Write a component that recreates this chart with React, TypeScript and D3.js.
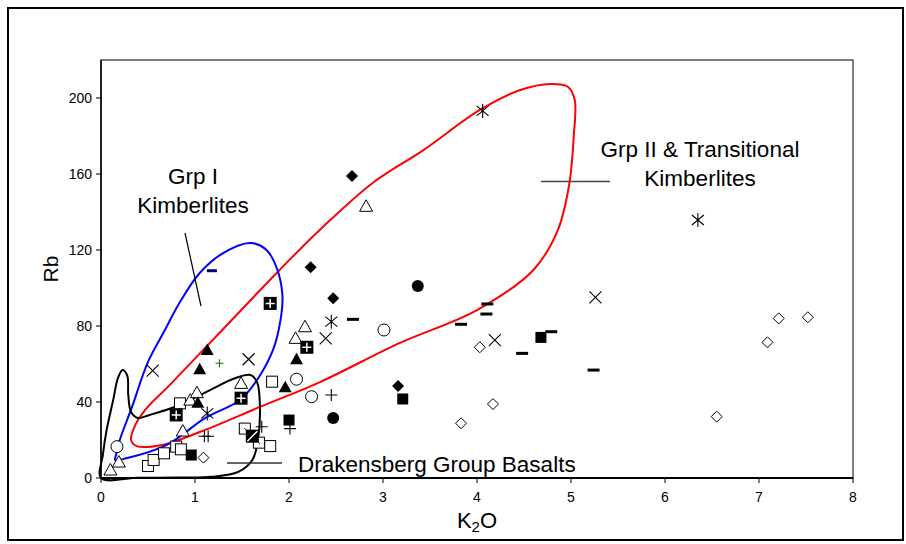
import React from "react"
import * as d3 from "d3"

// K2O, Rb pairs
const openTriangles = [[0.10, 4.2], [0.19, 8.4], [0.87, 24.7], [0.95, 41], [1.02, 44.9], [1.49, 49.8], [2.07, 73.5], [2.17, 79.6], [2.82, 143]]
const filledTriangles = [[1.13, 67.4], [1.05, 57.2], [1.03, 39.6], [1.96, 47.7], [2.08, 62.5]]
const plusSquares = [[0.80, 33.2], [1.49, 42], [1.80, 91.9], [2.19, 68.8]]
const xSquares = [[1.61, 22]]
const filledSquares = [[0.96, 12.1], [2.0, 30.5], [3.21, 41.6], [4.68, 74]]
const openSquares = [[0.50, 6.3], [0.56, 9.5], [0.67, 13], [0.80, 16.5], [0.85, 15.1], [0.84, 39.3], [1.53, 26], [1.68, 18.6], [1.80, 16.8], [1.82, 50.7]]
const openCircles = [[0.17, 16.5], [2.08, 52], [2.24, 42.8], [3.01, 77.9]]
const filledCircles = [[3.37, 101], [2.47, 31.6]]
const filledDiamonds = [[2.67, 159], [2.23, 110.9], [2.47, 94.6], [3.16, 48.4]]
const openDiamonds = [[1.09, 10.7], [4.03, 68.8], [4.17, 38.9], [3.83, 28.8], [7.21, 84], [7.52, 84.6], [7.09, 71.4], [6.55, 32.3]]
const asterisks = [[4.06, 193.2], [6.35, 135.8], [2.45, 82.3], [1.13, 34]]
const crosses = [[0.55, 56.5], [1.57, 62.5], [2.39, 73.5], [4.19, 72.6], [5.26, 95.1]]
const pluses = [[1.71, 27], [2.01, 26], [1.10, 22], [1.14, 22], [2.45, 43.7]]
const greenPluses = [[1.26, 60.4]]
const dashes = [[2.68, 83.5], [4.11, 91.6], [4.10, 86.3], [3.83, 80.9], [4.48, 65.6], [4.79, 77], [5.24, 56.8]]
const navyDashes = [[1.18, 109.1]]

// field outlines
const drakensberg = [[0, 0], [0.02, 12.1], [0.06, 25.3], [0.13, 41.1], [0.18, 52.6], [0.23, 56.8], [0.28, 53.7], [0.29, 43.7], [0.32, 34.7], [0.39, 31.6], [0.52, 33.2], [0.84, 38.4], [1.16, 46.3], [1.43, 52.6], [1.59, 54.2], [1.66, 50.5], [1.69, 38.4], [1.67, 20], [1.61, 9.5], [1.46, 3.2], [1.18, 0.6], [0.84, 0.2], [0.4, 0.1]]
const grpI = [[0.15, 9.5], [0.28, 10.5], [0.70, 17.4], [1.11, 31.6], [1.48, 41.1], [1.66, 51.6], [1.83, 67.4], [1.91, 83.2], [1.93, 96.3], [1.87, 110.5], [1.76, 120], [1.59, 123.7], [1.30, 118.4], [1.05, 107.9], [0.84, 92.6], [0.68, 77.9], [0.50, 61.1], [0.33, 37.4], [0.20, 20], [0.16, 12.1]]
const grpII = [[0.32, 20], [0.38, 16.8], [0.65, 17.4], [1.05, 24.2], [1.69, 37.4], [2.33, 50.5], [3.18, 71.1], [4.0, 88.4], [4.60, 109.5], [4.86, 130.5], [4.98, 154.2], [5.03, 180.5], [5.04, 198.9], [4.97, 205.8], [4.78, 207.4], [4.46, 204.2], [4.03, 193.7], [3.43, 172.6], [2.89, 155.3], [2.36, 132.1], [1.90, 109.5], [1.29, 77.9], [0.73, 48.9], [0.47, 35.8], [0.35, 26.3]]

const xTicks = [0, 1, 2, 3, 4, 5, 6, 7, 8]
const yTicks = [0, 40, 80, 120, 160, 200]

const font = "Arial, 'Liberation Sans', sans-serif"

export default function App() {
    const left = 101, right = 853, top = 60, bottom = 478
    const x = d3.scaleLinear().domain([0, 8]).range([left, right])
    const y = d3.scaleLinear().domain([0, 220]).range([bottom, top])

    const outline = d3.line<number[]>()
        .x(d => x(d[0]))
        .y(d => y(d[1]))
        .curve(d3.curveCatmullRomClosed.alpha(0.5))

    const at = (d: number[]) => `translate(${x(d[0])},${y(d[1])})`
    const tri = "M0,-6.5L6.5,5L-6.5,5Z"
    const dia = "M0,-6L6,0L0,6L-6,0Z"

    return (
        <svg width={906} height={544} style={{ position: "absolute", left: 0, top: 0 }} fontFamily={font}>
            <rect x={0} y={0} width={906} height={544} fill="#fff" />
            <rect x={8} y={8} width={895} height={532} fill="none" stroke="#000" strokeWidth={2} />

            {/* plot frame */}
            <rect x={left} y={top} width={right - left} height={bottom - top} fill="none" stroke="#000" strokeWidth={1} />
            <line x1={left} x2={right} y1={bottom} y2={bottom} stroke="#000" strokeWidth={2} />
            <line x1={left} x2={left} y1={top} y2={bottom} stroke="#000" strokeWidth={1.5} />

            {yTicks.map(t => (
                <g key={"y" + t}>
                    <line x1={left - 5} x2={left} y1={y(t)} y2={y(t)} stroke="#000" />
                    <text x={left - 9} y={y(t)} dy="0.35em" textAnchor="end" fontSize={14}>{t}</text>
                </g>
            ))}
            {xTicks.map(t => (
                <g key={"x" + t}>
                    <line x1={x(t)} x2={x(t)} y1={bottom} y2={bottom + 5} stroke="#000" />
                    <text x={x(t)} y={bottom + 24} textAnchor="middle" fontSize={14}>{t}</text>
                </g>
            ))}
            <text transform={`translate(58,${(top + bottom) / 2}) rotate(-90)`} textAnchor="middle" fontSize={21}>Rb</text>
            <text x={(left + right) / 2} y={528} textAnchor="middle" fontSize={22}>K<tspan fontSize={15} dy={4}>2</tspan><tspan dy={-4}>O</tspan></text>

            {/* fields */}
            <path d={outline(grpII) || ""} fill="none" stroke="#ff0000" strokeWidth={2} />
            <path d={outline(grpI) || ""} fill="none" stroke="#0000ff" strokeWidth={2} />
            <path d={outline(drakensberg) || ""} fill="none" stroke="#000" strokeWidth={2} />

            {/* annotations */}
            <text x={193} y={184} textAnchor="middle" fontSize={22.5}>Grp I</text>
            <text x={193} y={213} textAnchor="middle" fontSize={22.5}>Kimberlites</text>
            <line x1={185} y1={233} x2={201} y2={306} stroke="#000" strokeWidth={1.2} />
            <text x={700} y={157} textAnchor="middle" fontSize={22.5}>Grp II &amp; Transitional</text>
            <text x={700} y={186} textAnchor="middle" fontSize={22.5}>Kimberlites</text>
            <line x1={541} y1={181.5} x2={610} y2={181.5} stroke="#444" strokeWidth={1.5} />
            <text x={298} y={472} fontSize={22.5}>Drakensberg Group Basalts</text>
            <line x1={227} y1={463} x2={282} y2={463} stroke="#333" strokeWidth={1.5} />

            {/* markers */}
            {openSquares.map((d, i) => <rect key={"os" + i} transform={at(d)} x={-5.5} y={-5.5} width={11} height={11} fill="#fff" stroke="#000" />)}
            {openTriangles.map((d, i) => <path key={"ot" + i} transform={at(d)} d={tri} fill="#fff" stroke="#000" />)}
            {filledTriangles.map((d, i) => <path key={"ft" + i} transform={at(d)} d={tri} fill="#000" />)}
            {filledSquares.map((d, i) => <rect key={"fs" + i} transform={at(d)} x={-5.5} y={-5.5} width={11} height={11} fill="#000" />)}
            {plusSquares.map((d, i) => (
                <g key={"ps" + i} transform={at(d)}>
                    <rect x={-6.5} y={-6.5} width={13} height={13} fill="#000" />
                    <path d="M-4.5,0H4.5M0,-4.5V4.5" stroke="#fff" strokeWidth={1.5} />
                </g>
            ))}
            {xSquares.map((d, i) => (
                <g key={"xs" + i} transform={at(d)}>
                    <rect x={-6.5} y={-6.5} width={13} height={13} fill="#000" />
                    <path d="M-5,5L5,-5" stroke="#fff" strokeWidth={1.5} />
                    <path d="M-8,-8L-3,-3M3,3L8,8" stroke="#000" strokeWidth={1} />
                </g>
            ))}
            {openCircles.map((d, i) => <circle key={"oc" + i} transform={at(d)} r={6} fill="#fff" stroke="#000" />)}
            {filledCircles.map((d, i) => <circle key={"fc" + i} transform={at(d)} r={6} fill="#000" />)}
            {filledDiamonds.map((d, i) => <path key={"fd" + i} transform={at(d)} d={dia} fill="#000" />)}
            {openDiamonds.map((d, i) => <path key={"od" + i} transform={at(d)} d="M0,-5.5L5.5,0L0,5.5L-5.5,0Z" fill="#fff" stroke="#000" />)}
            {crosses.map((d, i) => <path key={"cr" + i} transform={at(d)} d="M-6,-6L6,6M-6,6L6,-6" stroke="#000" strokeWidth={1.1} />)}
            {asterisks.map((d, i) => <path key={"as" + i} transform={at(d)} d="M-6,-5L6,5M-6,5L6,-5M0,-7V7" stroke="#000" strokeWidth={1.1} />)}
            {pluses.map((d, i) => <path key={"pl" + i} transform={at(d)} d="M-6,0H6M0,-6V6" stroke="#000" strokeWidth={1.1} />)}
            {greenPluses.map((d, i) => <path key={"gp" + i} transform={at(d)} d="M-4,0H4M0,-4V4" stroke="#008000" strokeWidth={1.1} />)}
            {dashes.map((d, i) => <path key={"da" + i} transform={at(d)} d="M-6,0H6" stroke="#000" strokeWidth={3} />)}
            {navyDashes.map((d, i) => <path key={"nd" + i} transform={at(d)} d="M-5,0H5" stroke="#000080" strokeWidth={3} />)}
        </svg>
    )
}
